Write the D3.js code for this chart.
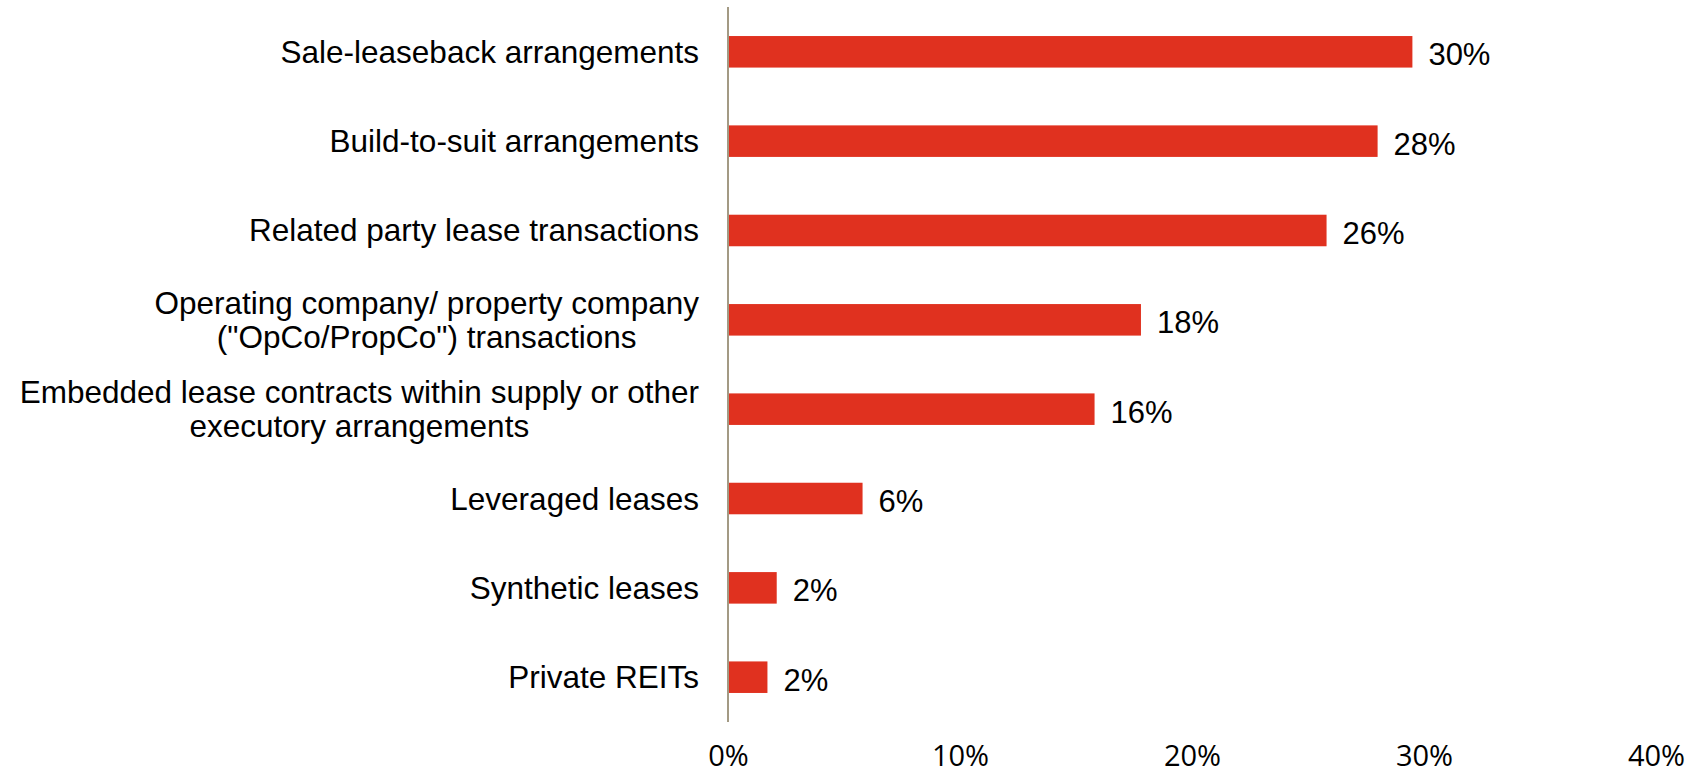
<!DOCTYPE html>
<html>
<head>
<meta charset="utf-8">
<script src="https://cdn.jsdelivr.net/npm/d3@7"></script>
<style>
  body { margin: 0; background: #fff; }
</style>
</head>
<body>
<div id="plot"></div>
<script>
const width = 1703
const height = 774

// data
const categories = [
    'Sale-leaseback arrangements',
    'Build-to-suit arrangements',
    'Related party lease transactions',
    'Operating company/ property company\n("OpCo/PropCo") transactions',
    'Embedded lease contracts within supply or other\nexecutory arrangements',
    'Leveraged leases',
    'Synthetic leases',
    'Private REITs'
]
const values = [29.5, 28.0, 25.8, 17.8, 15.8, 5.8, 2.1, 1.7]
const valueLabels = ['30%', '28%', '26%', '18%', '16%', '6%', '2%', '2%']
const xTicks = [0, 10, 20, 30, 40]

const barColor = '#e0311f'
const axisColor = '#a39a84'

const svg = d3.select('div#plot').append('svg')
    .attr('width', width)
    .attr('height', height)
    .attr('viewBox', [0, 0, width, height])

const x = d3.scaleLinear()
    .domain([0, 40])
    .range([728, 1656])

const y = d3.scaleBand()
    .domain(categories)
    .range([7, 722])
    .paddingInner(0.647)
    .paddingOuter(0.325)

// bars
svg.append('g')
    .selectAll('rect')
    .data(values)
    .join('rect')
    .attr('x', x(0))
    .attr('y', (v, i) => y(categories[i]))
    .attr('width', v => x(v) - x(0))
    .attr('height', y.bandwidth())
    .attr('fill', barColor)

// value labels
svg.append('g')
    .selectAll('text')
    .data(values)
    .join('text')
    .attr('x', v => x(v) + 16)
    .attr('y', (v, i) => y(categories[i]) + y.bandwidth()/2 + 13.5)
    .attr('font-family', '"Liberation Sans", Arial, sans-serif')
    .attr('font-size', 31)
    .attr('fill', '#000')
    .text((v, i) => valueLabels[i])

// category labels, multi-line ones centred inside their block
const labelRight = 699
const labels = svg.append('g')
    .attr('font-family', '"Liberation Sans", Arial, sans-serif')
    .attr('font-size', 31.5)
    .attr('fill', '#000')

categories.forEach(c => {
    const lines = c.split('\n')
    const cy = y(c) + y.bandwidth()/2
    const lineH = 34
    const base = cy + 11 - (lines.length - 1) * lineH / 2
    const texts = lines.map((l, j) => labels.append('text')
        .attr('y', base + j * lineH)
        .text(l))
    const w = d3.max(texts, t => t.node().getComputedTextLength())
    texts.forEach(t => {
        t.attr('x', labelRight - w/2).attr('text-anchor', 'middle')
    })
})

// vertical axis line
svg.append('line')
    .attr('x1', x(0))
    .attr('x2', x(0))
    .attr('y1', 7)
    .attr('y2', 722)
    .attr('stroke', axisColor)
    .attr('stroke-width', 2)

// x axis tick labels
svg.append('g')
    .attr('transform', 'translate(0,745)')
    .call(d3.axisBottom(x).tickValues(xTicks).tickFormat(d => d + '%').tickSize(0).tickPadding(0))
    .call(g => g.select('.domain').remove())
    .call(g => g.selectAll('text')
        .attr('font-family', '"Open Sans", sans-serif')
        .attr('font-size', 29)
        .attr('fill', '#000'))
</script>
</body>
</html>
